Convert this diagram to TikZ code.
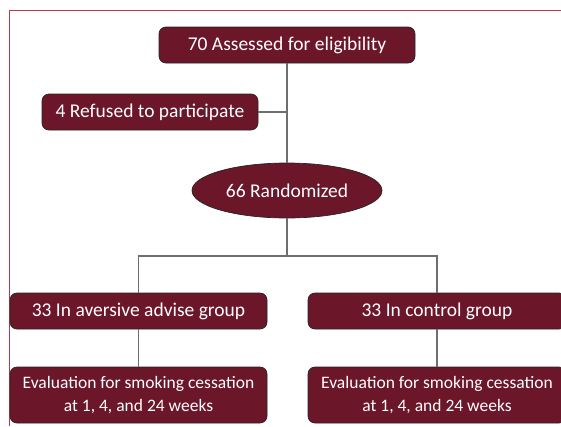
\documentclass[tikz,border=0pt]{standalone}
\usepackage{fontspec}
\setmainfont{Carlito}
\usetikzlibrary{positioning,shapes.geometric}

\definecolor{boxred}{HTML}{6B1629}
\definecolor{framered}{HTML}{C03850}
\definecolor{linegray}{HTML}{6E6E6E}

\tikzset{
  stage/.style={draw=black!85, line width=0.7pt, fill=boxred, text=white,
    rounded corners=7pt, minimum height=36pt, inner sep=2pt,
    font=\fontsize{19.5}{22.5}\selectfont, align=center},
  tall/.style={minimum height=56pt, font=\fontsize{17.5}{22.3}\selectfont},
  link/.style={draw=linegray, line width=1.1pt}
}

\begin{document}
\begin{tikzpicture}[x=1pt, y=-1pt, node distance=1cm, on grid]
      \useasboundingbox (0,0) rectangle (561,426);
      \draw [framered, line width=1pt] (561,10) -- (9,10) -- (9,426);
      \node (Assessed) [stage, minimum width=256pt] at (287,45) {70 Assessed for eligibility};
      \node (Refused) [stage, minimum width=216pt, below left=67pt and 137pt of Assessed] {4 Refused to participate};
      \node (Rand) [stage, ellipse, rounded corners=0pt, minimum width=190pt, minimum height=55pt, below=145.5pt of Assessed] {66 Randomized};
      \node (Aversive) [stage, minimum width=257pt, below left=120.5pt and 148.5pt of Rand] {33 In aversive advise group};
      \node (Control) [stage, minimum width=258pt, below right=120.5pt and 150pt of Rand] {33 In control group};
      \node (EvalA) [stage, tall, minimum width=257pt, below=84pt of Aversive] {Evaluation for smoking cessation\\at 1, 4, and 24 weeks};
      \node (EvalC) [stage, tall, minimum width=258pt, below=84pt of Control] {Evaluation for smoking cessation\\at 1, 4, and 24 weeks};
      \coordinate (Split) at (287,256);
      \draw [link] (Assessed) to (Rand);
      \draw [link] (Refused.east) to (Refused.east -| Assessed.south);
      \draw [link] (Rand) to (Split);
      \draw [link] (Aversive.north) -- (Aversive.north |- Split) -- (Control.north |- Split) -- (Control.north);
      \draw [link] (Aversive) to (EvalA);
      \draw [link] (Control) to (EvalC);
      \end{tikzpicture}
\end{document}
